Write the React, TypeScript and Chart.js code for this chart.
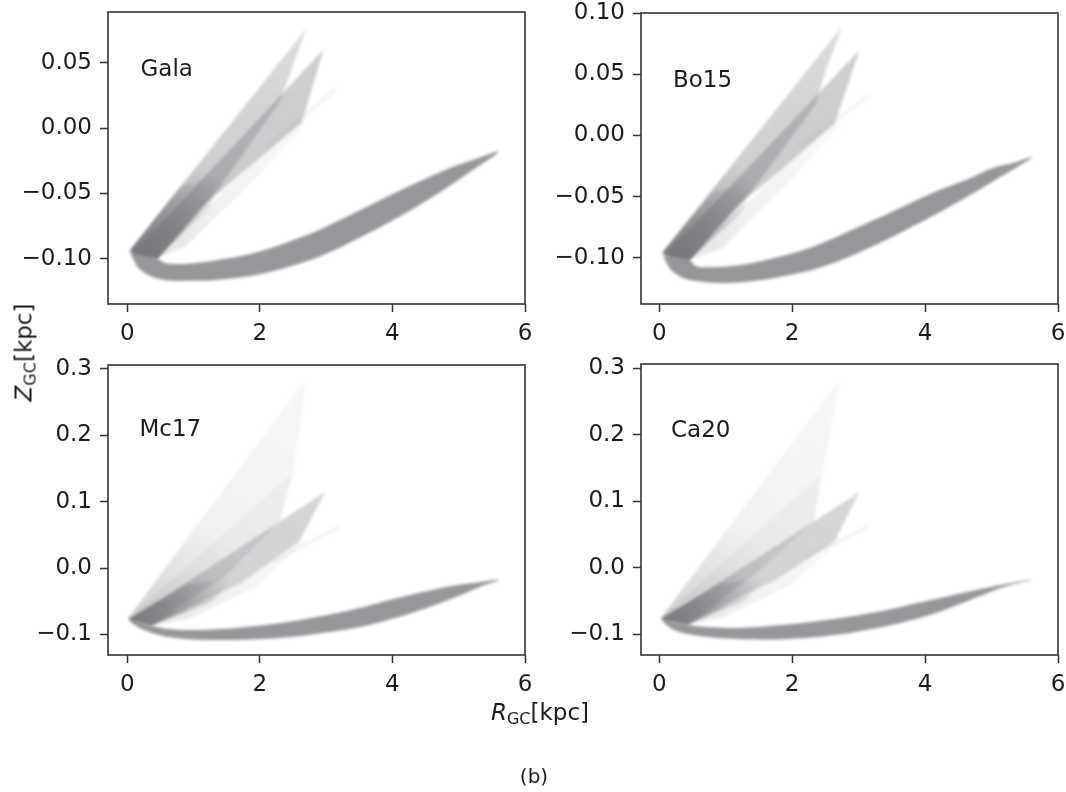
import React, { useEffect, useRef } from 'react';
import { Chart, registerables } from 'chart.js';

Chart.register(...registerables);

// ---------- tick values / labels ----------
const xTicks = [0, 2, 4, 6];
const xTickLabels = ['0', '2', '4', '6'];
const yTicksGala = [-0.1, -0.05, 0, 0.05];
const yLabelsGala = ['\u22120.10', '\u22120.05', '0.00', '0.05'];
const yTicksBo15 = [-0.1, -0.05, 0, 0.05, 0.1];
const yLabelsBo15 = ['\u22120.10', '\u22120.05', '0.00', '0.05', '0.10'];
const yTicksLower = [-0.1, 0, 0.1, 0.2, 0.3];
const yLabelsLower = ['\u22120.1', '0.0', '0.1', '0.2', '0.3'];

const panelNames = ['Gala', 'Bo15', 'Mc17', 'Ca20'];

// ---------- Gala (R_GC, Z_GC) outlines ----------
const galaBand = [[0.05, -0.096], [0.2, -0.1085], [0.5, -0.1155], [1.0, -0.1168], [1.5, -0.1153], [2.0, -0.1118], [2.75, -0.101], [3.28, -0.0895], [4.06, -0.069], [4.84, -0.045], [5.2, -0.0325], [5.6, -0.018], [5.2, -0.0245], [4.84, -0.031], [4.06, -0.049], [3.28, -0.0685], [2.75, -0.081], [2.0, -0.0943], [1.5, -0.0998], [1.0, -0.1033], [0.6, -0.1035], [0.45, -0.0995], [0.25, -0.0955], [0.12, -0.094]];
const galaFeatherL = [[0.03, -0.094], [2.7, 0.076], [2.47, 0.044], [2.31, 0.021], [1.4, -0.045], [0.45, -0.0995]];
const galaFeatherR = [[0.1, -0.095], [2.96, 0.06], [2.63, 0.004], [1.71, -0.035], [1.19, -0.0575], [0.45, -0.0995]];
const galaFringe = [[0.45, -0.0995], [1.71, -0.035], [2.63, 0.004], [2.75, 0.006], [1.9, -0.04], [0.9, -0.09]];
const galaBase = [[0.04, -0.095], [0.8, -0.045], [1.4, -0.035], [1.25, -0.06], [0.45, -0.0995]];
const galaFaint = [[2.1, -0.015], [3.15, 0.03]];

// ---------- Bo15 ----------
const bo15Band = [[0.06, -0.099], [0.2, -0.111], [0.5, -0.1185], [1.2, -0.12], [2.18, -0.1114], [2.7, -0.1025], [3.21, -0.0905], [3.73, -0.0765], [4.24, -0.062], [4.65, -0.0495], [5.02, -0.0375], [5.35, -0.027], [5.61, -0.0175], [5.35, -0.022], [5.02, -0.0265], [4.65, -0.0355], [4.24, -0.044], [3.73, -0.0565], [3.21, -0.0695], [2.7, -0.082], [2.18, -0.0934], [1.7, -0.1005], [1.2, -0.106], [0.75, -0.1075], [0.55, -0.1065], [0.45, -0.1015], [0.25, -0.098], [0.13, -0.097]];
const bo15FeatherL = [[0.04, -0.096], [2.75, 0.0888], [2.49, 0.0507], [2.36, 0.0262], [1.4, -0.045], [0.45, -0.1015]];
const bo15FeatherR = [[0.1, -0.097], [3.015, 0.0698], [2.64, 0.0098], [1.77, -0.031], [1.15, -0.058], [0.45, -0.1015]];
const bo15Fringe = [[0.45, -0.1015], [1.77, -0.031], [2.64, 0.0098], [2.78, 0.012], [1.95, -0.038], [0.95, -0.092]];
const bo15Base = [[0.05, -0.097], [0.8, -0.047], [1.4, -0.037], [1.25, -0.062], [0.45, -0.1015]];
const bo15Faint = [[2.1, -0.01], [3.16, 0.033]];

// ---------- Mc17 ----------
const mc17Band = [[0.02, -0.077], [0.1, -0.085], [0.255, -0.0935], [0.45, -0.1], [0.67, -0.1045], [1.0, -0.1075], [1.45, -0.1085], [2.0, -0.107], [2.49, -0.1035], [3.0, -0.097], [3.53, -0.0884], [4.05, -0.075], [4.57, -0.0583], [5.09, -0.0382], [5.35, -0.027], [5.6, -0.0178], [5.35, -0.0206], [4.83, -0.0281], [4.05, -0.0457], [3.5, -0.06], [3.01, -0.0709], [2.5, -0.08], [1.97, -0.087], [1.4, -0.092], [0.93, -0.0935], [0.6, -0.0915], [0.42, -0.088], [0.25, -0.083], [0.1, -0.078]];
const mc17Light = [[0.01, -0.076], [2.7, 0.286], [2.6, 0.21], [2.49, 0.138], [2.31, 0.072], [1.5, -0.01], [0.36, -0.086]];
const mc17Mid = [[0.01, -0.076], [2.49, 0.142], [2.41, 0.12], [2.31, 0.072], [1.5, -0.01], [0.36, -0.086]];
const mc17FeatherR = [[0.05, -0.077], [2.985, 0.115], [2.595, 0.04], [1.71, -0.023], [1.1, -0.052], [0.36, -0.086]];
const mc17Fringe = [[0.36, -0.086], [1.71, -0.023], [2.595, 0.04], [2.72, 0.045], [1.95, -0.028], [0.9, -0.078]];
const mc17Base = [[0.02, -0.077], [0.9, -0.025], [1.6, -0.015], [1.3, -0.05], [0.36, -0.086]];
const mc17Faint = [[2.2, 0.01], [3.19, 0.062]];

// ---------- Ca20 ----------
const ca20Band = [[0.03, -0.077], [0.12, -0.087], [0.268, -0.0955], [0.5, -0.101], [0.89, -0.1055], [1.3, -0.1075], [1.66, -0.108], [2.2, -0.1055], [2.7, -0.1005], [3.2, -0.092], [3.73, -0.0804], [4.25, -0.065], [4.76, -0.0452], [5.2, -0.0285], [5.62, -0.0176], [5.17, -0.0251], [4.7, -0.035], [4.24, -0.0452], [3.71, -0.057], [3.21, -0.0678], [2.7, -0.076], [2.18, -0.0829], [1.66, -0.0875], [1.15, -0.0905], [0.8, -0.0895], [0.55, -0.0875], [0.42, -0.0854], [0.25, -0.082], [0.1, -0.078]];
const ca20Light = [[0.02, -0.076], [2.72, 0.2834], [2.54, 0.188], [2.44, 0.128], [2.33, 0.0704], [1.5, -0.005], [0.42, -0.0854]];
const ca20Mid = [[0.02, -0.076], [2.44, 0.14], [2.38, 0.12], [2.33, 0.0704], [1.5, -0.005], [0.42, -0.0854]];
const ca20FeatherR = [[0.05, -0.077], [3.005, 0.1131], [2.643, 0.0402], [1.766, -0.0176], [1.1, -0.05], [0.42, -0.0854]];
const ca20Fringe = [[0.42, -0.0854], [1.766, -0.0176], [2.643, 0.0402], [2.77, 0.045], [2.0, -0.024], [0.95, -0.075]];
const ca20Base = [[0.02, -0.077], [0.9, -0.025], [1.6, -0.015], [1.3, -0.048], [0.42, -0.0854]];
const ca20Faint = [[2.2, 0.015], [3.16, 0.0628]];

// ---------- styling ----------
const FONT = "'DejaVu Sans', sans-serif";
const TEXT = '#1c1c1c';
const AXIS = '#333333';
const BAND = 'rgb(150,151,155)';
const ARM_RGB = '118,119,124';
const arm = (a: number) => `rgba(${ARM_RGB},${a})`;

type Layer = { pts: number[][]; stops?: number[]; solid?: string; line?: boolean; smooth?: boolean };

const upperLayers = (fl: number[][], fr: number[][], fringe: number[][], base: number[][], faint: number[][], band: number[][]): Layer[] => [
  { pts: faint, solid: arm(0.07), line: true },
  { pts: fringe, stops: [0.2, 0.1, 0.04] },
  { pts: fl, stops: [0.75, 0.36, 0.26] },
  { pts: fr, stops: [0.7, 0.38, 0.36] },
  { pts: base, stops: [0.9, 0.5, 0] },
  { pts: band, solid: BAND, smooth: true },
];
const lowerLayers = (light: number[][], mid: number[][], fr: number[][], fringe: number[][], base: number[][], faint: number[][], band: number[][]): Layer[] => [
  { pts: faint, solid: arm(0.07), line: true },
  { pts: fringe, stops: [0.2, 0.1, 0.04] },
  { pts: light, stops: [0.35, 0.1, 0.06] },
  { pts: mid, stops: [0.12, 0.07, 0.06] },
  { pts: fr, stops: [0.65, 0.33, 0.3] },
  { pts: base, stops: [0.9, 0.5, 0] },
  { pts: band, solid: BAND, smooth: true },
];

const AX_W = 110;
const AX_H = 60;
const PAD_T = 30;
const PAD_R = 30;

const panels = [
  { name: panelNames[0], rect: [108, 12, 525, 304], x: [-0.29, 6.0], y: [-0.1345, 0.0888], yt: yTicksGala, yl: yLabelsGala, layers: upperLayers(galaFeatherL, galaFeatherR, galaFringe, galaBase, galaFaint, galaBand), label: [140.5, 57.3] },
  { name: panelNames[1], rect: [641, 13, 1058, 304], x: [-0.275, 6.0], y: [-0.1376, 0.1], yt: yTicksBo15, yl: yLabelsBo15, layers: upperLayers(bo15FeatherL, bo15FeatherR, bo15Fringe, bo15Base, bo15Faint, bo15Band), label: [673, 68] },
  { name: panelNames[2], rect: [108, 365, 525, 655], x: [-0.29, 6.0], y: [-0.131, 0.306], yt: yTicksLower, yl: yLabelsLower, layers: lowerLayers(mc17Light, mc17Mid, mc17FeatherR, mc17Fringe, mc17Base, mc17Faint, mc17Band), label: [139.5, 416.7] },
  { name: panelNames[3], rect: [641, 364, 1058, 655], x: [-0.275, 6.0], y: [-0.1312, 0.3062], yt: yTicksLower, yl: yLabelsLower, layers: lowerLayers(ca20Light, ca20Mid, ca20FeatherR, ca20Fringe, ca20Base, ca20Faint, ca20Band), label: [671, 417.7] },
];

const framePlugin = {
  id: 'frame',
  afterDraw(chart: any) {
    const { ctx, chartArea: a } = chart;
    ctx.save();
    ctx.strokeStyle = AXIS;
    ctx.lineWidth = 1.6;
    ctx.strokeRect(a.left, a.top, a.right - a.left, a.bottom - a.top);
    ctx.restore();
  },
};

const softPlugin = {
  id: 'soft',
  beforeDatasetsDraw(chart: any) {
    chart.ctx.save();
    chart.ctx.filter = 'blur(1.7px)';
  },
  afterDatasetsDraw(chart: any) {
    chart.ctx.restore();
  },
};

function layerFill(ly: Layer) {
  if (ly.solid) return ly.solid;
  const st = ly.stops ?? [0.3, 0.3, 0.3];
  return (c: any) => {
    const chart = c.chart;
    const xs = chart.scales?.x;
    const ys = chart.scales?.y;
    if (!chart.chartArea || !xs || !ys) return arm(st[0]);
    const p0 = ly.pts[0];
    let p1 = ly.pts[0];
    for (const p of ly.pts) if (p[1] > p1[1]) p1 = p;
    const g = chart.ctx.createLinearGradient(
      xs.getPixelForValue(p0[0]), ys.getPixelForValue(p0[1]),
      xs.getPixelForValue(p1[0]), ys.getPixelForValue(p1[1]),
    );
    g.addColorStop(0, arm(st[0]));
    g.addColorStop(0.4, arm(st[1]));
    g.addColorStop(1, arm(st[2]));
    return g;
  };
}

function Panel({ p }: { p: any }) {
  const ref = useRef<HTMLCanvasElement>(null);
  const [L, T, R, B] = p.rect;
  const w = AX_W + (R - L) + PAD_R;
  const h = PAD_T + (B - T) + AX_H;

  useEffect(() => {
    const canvas = ref.current!;
    const datasets = p.layers.map((ly: Layer) => ({
      data: ly.pts.map(([x, y]) => ({ x, y })),
      borderWidth: ly.line ? 4 : 0,
      borderColor: ly.line ? ly.solid : 'rgba(0,0,0,0)',
      backgroundColor: layerFill(ly),
      fill: ly.line ? false : 'shape',
      pointRadius: 0,
      tension: ly.smooth ? 0.35 : 0,
    }));
    const tickFont = { family: FONT, size: 23 };
    const chart = new Chart(canvas, {
      type: 'line',
      data: { datasets },
      options: {
        animation: false,
        responsive: false,
        devicePixelRatio: 1,
        layout: { padding: { left: 0, top: PAD_T, right: PAD_R, bottom: 0 } },
        plugins: { legend: { display: false }, tooltip: { enabled: false }, filler: { propagate: false } },
        scales: {
          x: {
            type: 'linear',
            min: p.x[0],
            max: p.x[1],
            afterBuildTicks: (s: any) => { s.ticks = xTicks.map((v) => ({ value: v })); },
            afterFit: (s: any) => { s.height = AX_H; },
            ticks: {
              autoSkip: false,
              maxRotation: 0,
              padding: 8.5,
              color: TEXT,
              font: tickFont,
              callback: (v: any) => xTickLabels[xTicks.indexOf(Number(v))] ?? '',
            },
            grid: { drawOnChartArea: false, drawTicks: true, tickLength: 8, tickWidth: 1.5, tickColor: AXIS },
            border: { display: false },
          },
          y: {
            type: 'linear',
            min: p.y[0],
            max: p.y[1],
            afterBuildTicks: (s: any) => { s.ticks = p.yt.map((v: number) => ({ value: v })); },
            afterFit: (s: any) => { s.width = AX_W; },
            ticks: {
              autoSkip: false,
              padding: 8,
              color: TEXT,
              font: tickFont,
              callback: (v: any) => {
                const i = p.yt.findIndex((t: number) => Math.abs(t - Number(v)) < 1e-9);
                return i >= 0 ? p.yl[i] : '';
              },
            },
            grid: { drawOnChartArea: false, drawTicks: true, tickLength: 8, tickWidth: 1.5, tickColor: AXIS },
            border: { display: false },
          },
        },
      } as any,
      plugins: [softPlugin, framePlugin],
    });
    return () => chart.destroy();
  }, []);

  return (
    <>
      <canvas
        ref={ref}
        width={w}
        height={h}
        style={{ position: 'absolute', left: L - AX_W, top: T - PAD_T, width: w, height: h }}
      />
      <div
        style={{
          position: 'absolute', left: p.label[0], top: p.label[1], font: `23px ${FONT}`,
          lineHeight: '23px', color: TEXT, whiteSpace: 'nowrap',
        }}
      >
        {p.name}
      </div>
    </>
  );
}

export default function App() {
  return (
    <div style={{ position: 'absolute', left: 0, top: 0, width: 1066, height: 792, background: '#fff', overflow: 'hidden' }}>
      {panels.map((p) => (
        <Panel key={p.name} p={p} />
      ))}
      <div
        style={{
          position: 'absolute', left: 440, top: 700.5, width: 200, textAlign: 'center',
          font: `23px ${FONT}`, lineHeight: '23px', color: TEXT, whiteSpace: 'nowrap',
        }}
      >
        <i>R</i>
        <sub style={{ fontSize: '16px', lineHeight: 0, verticalAlign: '-4px' }}>GC</sub>[kpc]
      </div>
      <div
        style={{
          position: 'absolute', left: -76.3, top: 340.5, width: 200, height: 23, textAlign: 'center',
          font: `23px ${FONT}`, lineHeight: '23px', color: TEXT, whiteSpace: 'nowrap', transform: 'rotate(-90deg)',
        }}
      >
        <i>Z</i>
        <sub style={{ fontSize: '16px', lineHeight: 0, verticalAlign: '-4px' }}>GC</sub>[kpc]
      </div>
      <div
        style={{
          position: 'absolute', left: 434, top: 765, width: 200, textAlign: 'center',
          font: `20px ${FONT}`, lineHeight: '22px', color: TEXT,
        }}
      >
        (b)
      </div>
    </div>
  );
}
